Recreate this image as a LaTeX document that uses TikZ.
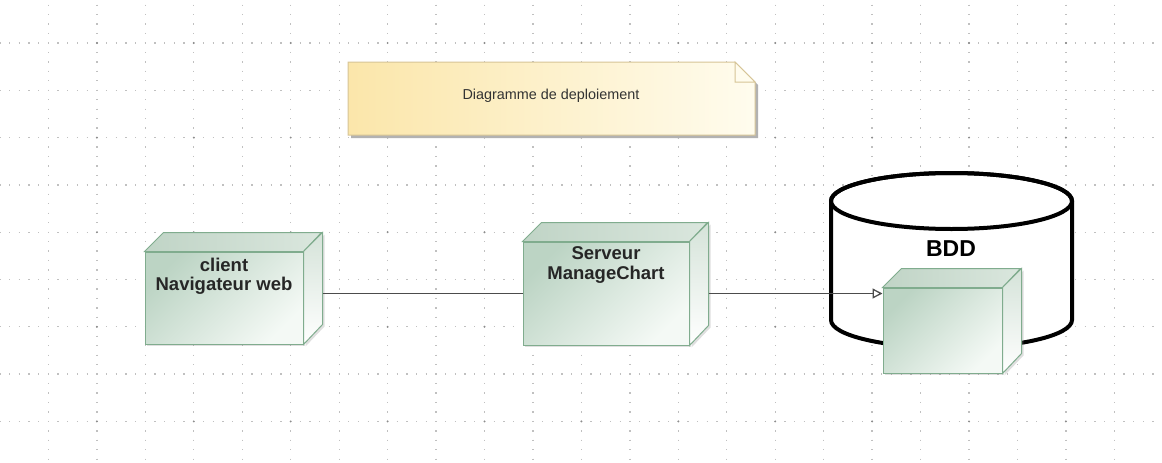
\documentclass[tikz,border=0pt]{standalone}
\usepackage{fontspec}
\setmainfont{Liberation Sans}
\usetikzlibrary{arrows.meta,positioning,calc,shadows}

\definecolor{vertbord}{RGB}{128,172,142}
\definecolor{vertfonce}{RGB}{188,212,196}
\definecolor{vertclair}{RGB}{244,249,245}
\definecolor{vertdessus}{RGB}{192,212,198}
\definecolor{jaunenote}{RGB}{251,230,170}
\definecolor{jauneclair}{RGB}{255,252,238}
\definecolor{bordnote}{RGB}{214,196,150}
\definecolor{pointgrille}{RGB}{192,192,192}

\tikzset{
  grille/.style={pointgrille,line width=1.3pt},
  noeud/.style={draw=vertbord,line width=1pt,left color=vertfonce,right color=vertclair,
    shading angle=45,inner sep=0pt,drop shadow={shadow xshift=2pt,shadow yshift=-2pt,opacity=.25}},
  dessus/.style={draw=vertbord,line width=1pt,left color=vertdessus,right color=vertclair!50!vertdessus},
  cote/.style={draw=vertbord,line width=1pt,top color=vertclair!40!vertdessus,bottom color=white,
    drop shadow={shadow xshift=2pt,shadow yshift=-2pt,opacity=.25}},
  titre/.style={font=\fontsize{18.5}{19.5}\selectfont\bfseries,align=center,inner sep=0pt,text=black!85},
  lien/.style={draw=black!70,line width=1.3pt},
}

\begin{document}
\begin{tikzpicture}[x=1pt,y=-1pt]
  \useasboundingbox (0,0) rectangle (1162,463);

  % grille
  \foreach \i in {1,...,23}
    \draw[grille,dash pattern=on 1.3pt off 8.16pt] (48.45*\i,-4.95) -- (48.45*\i,470);
  \foreach \j in {0,...,8}
    \draw[grille,dash pattern=on 1.3pt off 8.39pt] (-0.65,43+47.3*\j) -- (1170,43+47.3*\j);
  \foreach \i in {1,...,11}
    \foreach \j in {0,...,4}
      \fill[black!45] (96.9*\i,43+94.6*\j) circle (1.1pt);

  % note
  \fill[black!30] (351,65) -- (738,65) -- (758,85) -- (758,138) -- (351,138) -- cycle;
  \draw[draw=bordnote,line width=1pt,left color=jaunenote,right color=jauneclair]
    (348,62) -- (735,62) -- (755,82) -- (755,135) -- (348,135) -- cycle;
  \draw[draw=bordnote,line width=1pt,fill=jauneclair] (735,62) -- (735,82) -- (755,82) -- cycle;
  \node[font=\fontsize{14.4}{17}\selectfont,text=black!80] (titre) at (551,96) {Diagramme de deploiement};

  % base de donnees
  \draw[line width=4pt,fill=white] (831,201) -- (831,320)
    arc[start angle=180,end angle=360,x radius=120.5pt,y radius=28pt] -- (1072,201)
    arc[start angle=0,end angle=180,x radius=120.5pt,y radius=28pt] -- cycle;
  \draw[line width=4pt] (951.5,201) ellipse[x radius=120.5pt,y radius=28pt];
  \node[font=\fontsize{23}{24}\selectfont\bfseries] (bdd) at (951,249) {BDD};

  % noeuds
  \foreach \nom/\cx/\cy/\lx/\ly in {client/224/298/158/92,serveur/606/293.5/166/103,base/942.5/330.5/119/85} {
    \node[noeud,minimum width=\lx pt,minimum height=\ly pt] (\nom) at (\cx,\cy) {};
    \draw[dessus] (\nom.north west) -- ++(19,-19) -- ++(\lx,0) -- (\nom.north east) -- cycle;
    \draw[cote] (\nom.north east) -- ++(19,-19) -- ++(0,\ly) -- (\nom.south east) -- cycle;
    \coordinate (\nom-r) at ($(\nom.north east)+(19,-19)$);
  }

  \node[titre,below=6pt of client.north] (client-t) {client\\Navigateur web};
  \node[titre,below=5pt of serveur.north] (serveur-t) {Serveur\\ManageChart};

  % liens
  \draw[lien] (client-r |- serveur.west) -- (serveur.west);
  \draw[lien,-{Triangle[open,fill=white,length=10pt,width=10pt]}] (serveur-r |- serveur.east) -- (serveur.east -| base.west);
\end{tikzpicture}
\end{document}
